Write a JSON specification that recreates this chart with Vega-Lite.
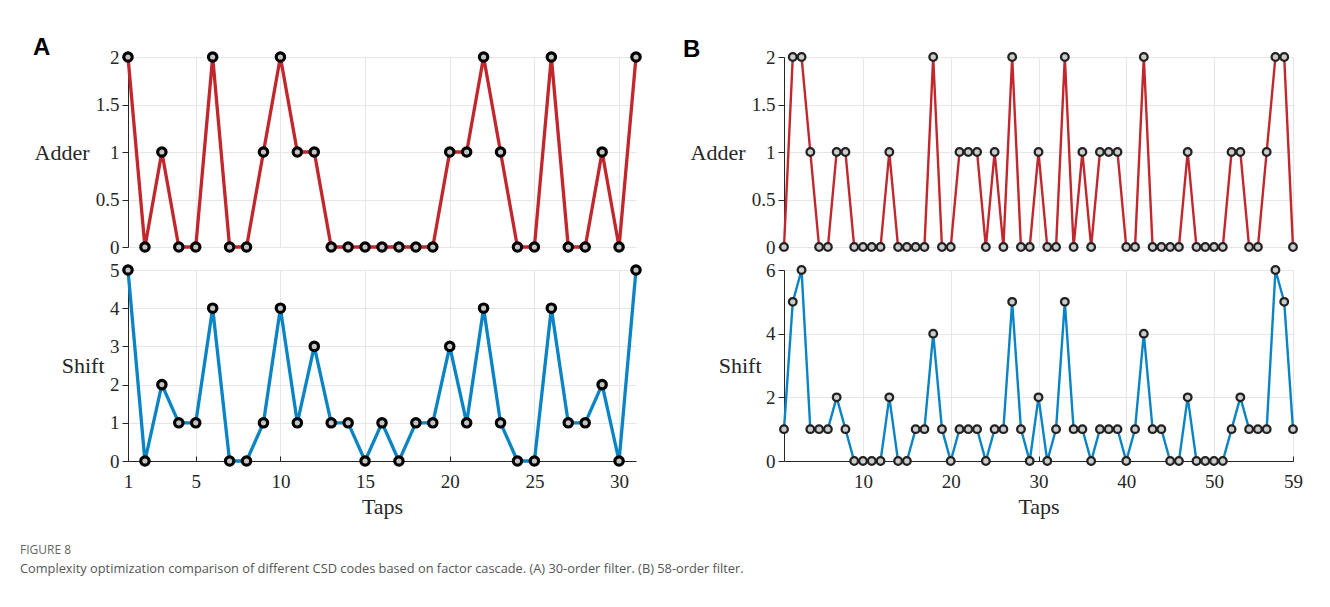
{
  "$schema": "https://vega.github.io/schema/vega-lite/v6.json",
  "background": "white",
  "padding": {"left": 20, "top": 36, "right": 10, "bottom": 10},
  "datasets": {
    "a": [
      {"tap":1,"adder":2,"shift":5},{"tap":2,"adder":0,"shift":0},{"tap":3,"adder":1,"shift":2},{"tap":4,"adder":0,"shift":1},{"tap":5,"adder":0,"shift":1},
      {"tap":6,"adder":2,"shift":4},{"tap":7,"adder":0,"shift":0},{"tap":8,"adder":0,"shift":0},{"tap":9,"adder":1,"shift":1},{"tap":10,"adder":2,"shift":4},
      {"tap":11,"adder":1,"shift":1},{"tap":12,"adder":1,"shift":3},{"tap":13,"adder":0,"shift":1},{"tap":14,"adder":0,"shift":1},{"tap":15,"adder":0,"shift":0},
      {"tap":16,"adder":0,"shift":1},{"tap":17,"adder":0,"shift":0},{"tap":18,"adder":0,"shift":1},{"tap":19,"adder":0,"shift":1},{"tap":20,"adder":1,"shift":3},
      {"tap":21,"adder":1,"shift":1},{"tap":22,"adder":2,"shift":4},{"tap":23,"adder":1,"shift":1},{"tap":24,"adder":0,"shift":0},{"tap":25,"adder":0,"shift":0},
      {"tap":26,"adder":2,"shift":4},{"tap":27,"adder":0,"shift":1},{"tap":28,"adder":0,"shift":1},{"tap":29,"adder":1,"shift":2},{"tap":30,"adder":0,"shift":0},
      {"tap":31,"adder":2,"shift":5}
    ],
    "b": [
      {"tap":1,"adder":0,"shift":1},{"tap":2,"adder":2,"shift":5},{"tap":3,"adder":2,"shift":6},{"tap":4,"adder":1,"shift":1},{"tap":5,"adder":0,"shift":1},
      {"tap":6,"adder":0,"shift":1},{"tap":7,"adder":1,"shift":2},{"tap":8,"adder":1,"shift":1},{"tap":9,"adder":0,"shift":0},{"tap":10,"adder":0,"shift":0},
      {"tap":11,"adder":0,"shift":0},{"tap":12,"adder":0,"shift":0},{"tap":13,"adder":1,"shift":2},{"tap":14,"adder":0,"shift":0},{"tap":15,"adder":0,"shift":0},
      {"tap":16,"adder":0,"shift":1},{"tap":17,"adder":0,"shift":1},{"tap":18,"adder":2,"shift":4},{"tap":19,"adder":0,"shift":1},{"tap":20,"adder":0,"shift":0},
      {"tap":21,"adder":1,"shift":1},{"tap":22,"adder":1,"shift":1},{"tap":23,"adder":1,"shift":1},{"tap":24,"adder":0,"shift":0},{"tap":25,"adder":1,"shift":1},
      {"tap":26,"adder":0,"shift":1},{"tap":27,"adder":2,"shift":5},{"tap":28,"adder":0,"shift":1},{"tap":29,"adder":0,"shift":0},{"tap":30,"adder":1,"shift":2},
      {"tap":31,"adder":0,"shift":0},{"tap":32,"adder":0,"shift":1},{"tap":33,"adder":2,"shift":5},{"tap":34,"adder":0,"shift":1},{"tap":35,"adder":1,"shift":1},
      {"tap":36,"adder":0,"shift":0},{"tap":37,"adder":1,"shift":1},{"tap":38,"adder":1,"shift":1},{"tap":39,"adder":1,"shift":1},{"tap":40,"adder":0,"shift":0},
      {"tap":41,"adder":0,"shift":1},{"tap":42,"adder":2,"shift":4},{"tap":43,"adder":0,"shift":1},{"tap":44,"adder":0,"shift":1},{"tap":45,"adder":0,"shift":0},
      {"tap":46,"adder":0,"shift":0},{"tap":47,"adder":1,"shift":2},{"tap":48,"adder":0,"shift":0},{"tap":49,"adder":0,"shift":0},{"tap":50,"adder":0,"shift":0},
      {"tap":51,"adder":0,"shift":0},{"tap":52,"adder":1,"shift":1},{"tap":53,"adder":1,"shift":2},{"tap":54,"adder":0,"shift":1},{"tap":55,"adder":0,"shift":1},
      {"tap":56,"adder":1,"shift":1},{"tap":57,"adder":2,"shift":6},{"tap":58,"adder":2,"shift":5},{"tap":59,"adder":0,"shift":1}
    ]
  },
  "title": {
    "text": "FIGURE 8",
    "subtitle": "Complexity optimization comparison of different CSD codes based on factor cascade. (A) 30-order filter. (B) 58-order filter.",
    "orient": "bottom",
    "anchor": "start",
    "frame": "bounds",
    "font": "Open Sans",
    "fontSize": 12,
    "fontWeight": "normal",
    "color": "#666666",
    "subtitleFont": "Open Sans",
    "subtitleFontSize": 12.8,
    "subtitleColor": "#555555",
    "subtitlePadding": 6,
    "offset": 28,
    "dx": -13
  },
  "spacing": 36,
  "hconcat": [
    {
      "bounds": "flush",
      "spacing": 23,
      "vconcat": [
        {
          "title": {"text": "A", "anchor": "start", "frame": "group", "font": "Liberation Sans", "fontSize": 24, "fontWeight": "bold", "color": "#000000", "dx": -95, "offset": 0, "baseline": "alphabetic", "dy": 33},
          "data": {"name": "a"},
          "width": 508,
          "height": 190,
          "encoding": {
            "x": {"field": "tap", "type": "quantitative", "scale": {"domain": [1, 31], "nice": false, "zero": false},
                  "axis": {"values": [1, 5, 10, 15, 20, 25, 30], "labels": false, "ticks": false, "domain": false, "title": null}},
            "y": {"field": "adder", "type": "quantitative", "scale": {"domain": [0, 2], "nice": false},
                  "axis": {"values": [0, 0.5, 1, 1.5, 2], "format": "~g", "title": "Adder", "titleX": -39}}
          },
          "layer": [
            {"mark": {"type": "line", "color": "#c1272d", "strokeWidth": 3.3}},
            {"mark": {"type": "point", "shape": "circle", "filled": true, "fill": "#c4c4c4", "stroke": "#000000", "strokeWidth": 3.2, "size": 70, "opacity": 1}}
          ]
        },
        {
          "data": {"name": "a"},
          "width": 508,
          "height": 191,
          "encoding": {
            "x": {"field": "tap", "type": "quantitative", "scale": {"domain": [1, 31], "nice": false, "zero": false},
                  "axis": {"values": [1, 5, 10, 15, 20, 25, 30], "title": "Taps"}},
            "y": {"field": "shift", "type": "quantitative", "scale": {"domain": [0, 5], "nice": false},
                  "axis": {"values": [0, 1, 2, 3, 4, 5], "format": "~g", "title": "Shift", "titleX": -24}}
          },
          "layer": [
            {"mark": {"type": "line", "color": "#0a84c4", "strokeWidth": 3.3}},
            {"mark": {"type": "point", "shape": "circle", "filled": true, "fill": "#c4c4c4", "stroke": "#000000", "strokeWidth": 3.2, "size": 70, "opacity": 1}}
          ]
        }
      ]
    },
    {
      "bounds": "flush",
      "spacing": 23,
      "vconcat": [
        {
          "title": {"text": "B", "anchor": "start", "frame": "group", "font": "Liberation Sans", "fontSize": 24, "fontWeight": "bold", "color": "#000000", "dx": -101, "offset": 0, "baseline": "alphabetic", "dy": 33},
          "data": {"name": "b"},
          "width": 509,
          "height": 190,
          "encoding": {
            "x": {"field": "tap", "type": "quantitative", "scale": {"domain": [1, 59], "nice": false, "zero": false},
                  "axis": {"values": [10, 20, 30, 40, 50, 59], "labels": false, "ticks": false, "domain": false, "title": null}},
            "y": {"field": "adder", "type": "quantitative", "scale": {"domain": [0, 2], "nice": false},
                  "axis": {"values": [0, 0.5, 1, 1.5, 2], "format": "~g", "title": "Adder", "titleX": -39}}
          },
          "layer": [
            {"mark": {"type": "line", "color": "#c1272d", "strokeWidth": 2.4}},
            {"mark": {"type": "point", "shape": "circle", "filled": true, "fill": "#cccccc", "stroke": "#222222", "strokeWidth": 2.3, "size": 58, "opacity": 1}}
          ]
        },
        {
          "data": {"name": "b"},
          "width": 509,
          "height": 191,
          "encoding": {
            "x": {"field": "tap", "type": "quantitative", "scale": {"domain": [1, 59], "nice": false, "zero": false},
                  "axis": {"values": [10, 20, 30, 40, 50, 59], "title": "Taps"}},
            "y": {"field": "shift", "type": "quantitative", "scale": {"domain": [0, 6], "nice": false},
                  "axis": {"values": [0, 2, 4, 6], "format": "~g", "title": "Shift", "titleX": -23}}
          },
          "layer": [
            {"mark": {"type": "line", "color": "#0a84c4", "strokeWidth": 2.4}},
            {"mark": {"type": "point", "shape": "circle", "filled": true, "fill": "#cccccc", "stroke": "#222222", "strokeWidth": 2.3, "size": 58, "opacity": 1}}
          ]
        }
      ]
    }
  ],
  "config": {
    "view": {"stroke": null},
    "axis": {
      "labelFont": "Liberation Serif",
      "labelFontSize": 19,
      "labelColor": "#262626",
      "titleFont": "Liberation Serif",
      "titleFontSize": 22,
      "titleFontWeight": "normal",
      "titleColor": "#262626",
      "gridColor": "#e6e6e6",
      "gridWidth": 1,
      "domainColor": "#262626",
      "domainWidth": 1,
      "tickColor": "#262626",
      "labelFlush": false,
      "labelOverlap": false,
      "labelBound": false
    },
    "axisY": {
      "titleAngle": 0,
      "titleAlign": "right",
      "titleBaseline": "middle",
      "titleY": 95,
      "tickSize": 6,
      "labelPadding": 3
    },
    "axisX": {
      "tickSize": -5,
      "labelPadding": 16,
      "titlePadding": 5
    }
  }
}
